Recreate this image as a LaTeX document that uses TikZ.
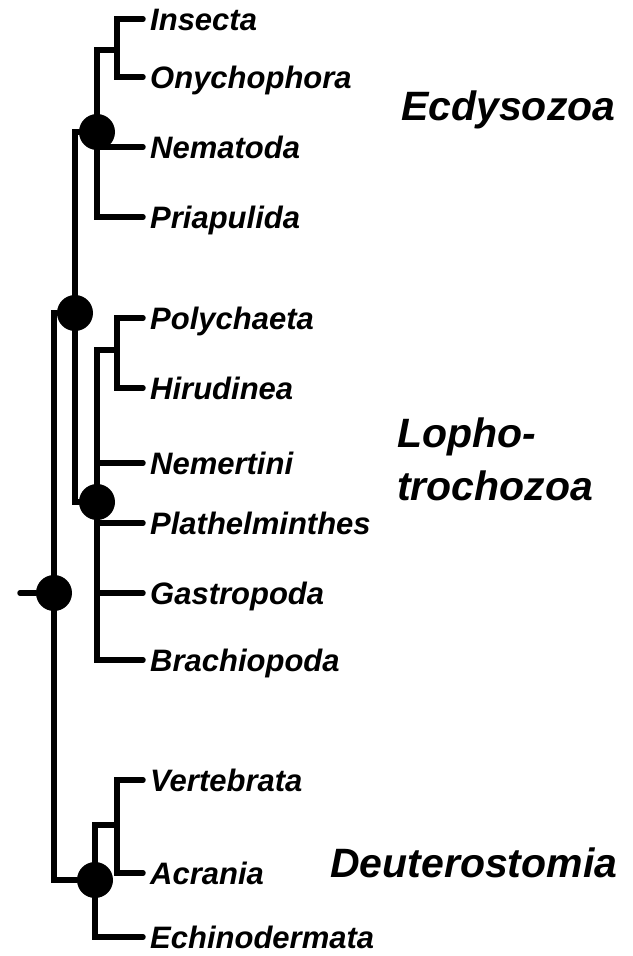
\documentclass[tikz,border=0pt]{standalone}
\usepackage{fontspec}
\setmainfont{Liberation Sans}
\usepackage{tikz}
\usetikzlibrary{positioning}

\begin{document}
\begin{tikzpicture}[x=1pt, y=-1pt]
    \tikzstyle{n} += [circle, fill=black, inner sep=0pt, minimum size=36pt];
    \tikzstyle{tip} += [anchor=west, inner xsep=7pt, inner ysep=0pt, text height=22pt, text depth=0pt,
                        font=\fontsize{31}{31}\selectfont\bfseries\itshape];
    \tikzstyle{group} += [anchor=base west, inner sep=0pt, font=\fontsize{41}{53}\selectfont\bfseries\itshape];
    \useasboundingbox (0,0) rectangle (632,956);

    \node (e) at (97, 132) [n] {};
    \node (p) at (75, 313) [n] {};
    \node (l) at (97, 502) [n] {};
    \node (r) at (54, 593) [n] {};
    \node (d) at (95, 880) [n] {};

    \node (t_1)  at (143,  19) [tip] {Insecta};
    \node (t_2)  at (143,  77) [tip] {Onychophora};
    \node (t_3)  at (143, 147) [tip] {Nematoda};
    \node (t_4)  at (143, 217) [tip] {Priapulida};
    \node (t_5)  at (143, 318) [tip] {Polychaeta};
    \node (t_6)  at (143, 388) [tip] {Hirudinea};
    \node (t_7)  at (143, 463) [tip] {Nemertini};
    \node (t_8)  at (143, 523) [tip] {Plathelminthes};
    \node (t_9)  at (143, 593) [tip] {Gastropoda};
    \node (t_10) at (143, 660) [tip] {Brachiopoda};
    \node (t_11) at (143, 780) [tip] {Vertebrata};
    \node (t_12) at (143, 873) [tip] {Acrania};
    \node (t_13) at (143, 937) [tip] {Echinodermata};

    \node (g_1) at (401, 120) [group] {Ecdysozoa};
    \node (g_2) at (397, 447) [group] {Lopho-};
    \node (g_3) at (397, 500) [group] {trochozoa};
    \node (g_4) at (330, 877) [group] {Deuterostomia};

    \coordinate (c_1) at (117,  50);
    \coordinate (c_2) at (117, 350);
    \coordinate (c_3) at (117, 825);
    \coordinate (s)   at ( 20, 593);

    \begin{scope}[line width=5.5pt, line cap=round]
      \draw (t_1.west) -| (c_1) |- (t_2.west);
      \draw (c_1) -- (c_1 -| e) |- (t_4.west);
      \draw (t_3.west) -- (t_3.west -| e);

      \draw (t_5.west) -| (c_2) |- (t_6.west);
      \draw (c_2) -- (c_2 -| l) |- (t_10.west);
      \draw (t_7.west) -- (t_7.west -| l);
      \draw (t_8.west) -- (t_8.west -| l);
      \draw (t_9.west) -- (t_9.west -| l);

      \draw (t_11.west) -| (c_3) |- (t_12.west);
      \draw (c_3) -- (c_3 -| d) |- (t_13.west);

      \draw (e) -| (p.center) |- (l);
      \draw (p) -| (r.center) |- (d);
      \draw (s) -- (r);
    \end{scope}
  \end{tikzpicture}
\end{document}
